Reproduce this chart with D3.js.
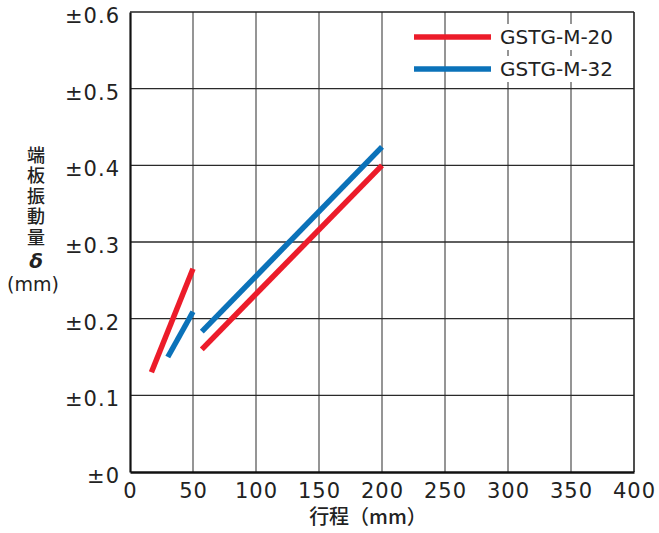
<!DOCTYPE html>
<html>
<head>
<meta charset="utf-8">
<script src="https://cdn.jsdelivr.net/npm/d3@7"></script>
<style>
  html, body { margin: 0; padding: 0; background: #fff; }
  svg { display: block; }
</style>
</head>
<body>
<svg id="chart" width="659" height="533"></svg>
<script>
// Stroke (mm) on x, end-plate vibration amount δ (mm) on y
const xTicks = [0, 50, 100, 150, 200, 250, 300, 350, 400];
const yTicks = [0, 0.1, 0.2, 0.3, 0.4, 0.5, 0.6];
const yTickLabels = ["±0", "±0.1", "±0.2", "±0.3", "±0.4", "±0.5", "±0.6"];
const seriesNames = ["GSTG-M-20", "GSTG-M-32"];
const seriesColors = ["#ec1c2a", "#0b72b9"];

// Each model has two straight segments: [stroke, vibration] end points
const m20Segments = [
  [[17, 0.13], [50, 0.265]],
  [[57, 0.16], [200, 0.40]]
];
const m32Segments = [
  [[30, 0.15], [50, 0.209]],
  [[57, 0.183], [200, 0.424]]
];
const seriesSegments = [m20Segments, m32Segments];

const yTitleText = "端板振動量";

const svg = d3.select("#chart");
const plotLeft = 130, plotRight = 634, plotTop = 12, plotBottom = 472;

const x = d3.scaleLinear().domain([0, 400]).range([plotLeft, plotRight]);
const y = d3.scaleLinear().domain([0, 0.6]).range([plotBottom, plotTop]);

const latin = "'DejaVu Sans', sans-serif";
const cjk = "'Noto Sans CJK JP', sans-serif";

// vertical grid (gray)
svg.append("g")
  .selectAll("line")
  .data(xTicks.slice(1, -1))
  .join("line")
  .attr("x1", d => x(d)).attr("x2", d => x(d))
  .attr("y1", plotTop).attr("y2", plotBottom)
  .attr("stroke", "#8a8a8a")
  .attr("stroke-width", 1.8);

// horizontal grid (dark)
svg.append("g")
  .selectAll("line")
  .data(yTicks.slice(1, -1))
  .join("line")
  .attr("x1", plotLeft).attr("x2", plotRight)
  .attr("y1", d => y(d)).attr("y2", d => y(d))
  .attr("stroke", "#2a2a2a")
  .attr("stroke-width", 1.3);

// frame
svg.append("line").attr("x1", plotLeft).attr("x2", plotRight).attr("y1", plotTop).attr("y2", plotTop)
  .attr("stroke", "#222").attr("stroke-width", 1.6);
svg.append("line").attr("x1", plotRight).attr("x2", plotRight).attr("y1", plotTop).attr("y2", plotBottom)
  .attr("stroke", "#222").attr("stroke-width", 1.6);

// y axis
const yAxis = d3.axisLeft(y)
  .tickValues(yTicks)
  .tickSize(0)
  .tickPadding(10)
  .tickFormat((d, i) => yTickLabels[i]);
const gy = svg.append("g").attr("transform", `translate(${plotLeft},0)`).call(yAxis);
gy.select(".domain").attr("stroke", "#111").attr("stroke-width", 2.2);
gy.selectAll("text")
  .attr("font-family", latin)
  .attr("font-size", 21)
  .attr("letter-spacing", 1)
  .attr("fill", "#222")
  .attr("dy", "0.5em");

// x axis
const xAxis = d3.axisBottom(x)
  .tickValues(xTicks)
  .tickSize(0)
  .tickPadding(11)
  .tickFormat(d3.format("d"));
const gx = svg.append("g").attr("transform", `translate(0,${plotBottom})`).call(xAxis);
gx.select(".domain").attr("stroke", "#111").attr("stroke-width", 2.6);
gx.selectAll("text")
  .attr("font-family", latin)
  .attr("font-size", 21)
  .attr("letter-spacing", 1)
  .attr("fill", "#222");

// data segments
const line = d3.line().x(d => x(d[0])).y(d => y(d[1]));
seriesSegments.forEach((segs, i) => {
  svg.append("g")
    .selectAll("path")
    .data(segs)
    .join("path")
    .attr("d", line)
    .attr("fill", "none")
    .attr("stroke", seriesColors[i])
    .attr("stroke-width", 5.5)
    .attr("stroke-linecap", "butt");
});

// legend
const legend = svg.append("g");
seriesNames.forEach((name, i) => {
  const cy = 37 + i * 32;
  legend.append("rect")
    .attr("x", 497).attr("y", cy - 13)
    .attr("width", 120).attr("height", 26)
    .attr("fill", "#fff");
  legend.append("line")
    .attr("x1", 414).attr("x2", 491)
    .attr("y1", cy).attr("y2", cy)
    .attr("stroke", seriesColors[i])
    .attr("stroke-width", 5.5);
  legend.append("text")
    .attr("x", 500).attr("y", cy)
    .attr("dy", "0.36em")
    .attr("font-family", latin)
    .attr("font-size", 20)
    .attr("fill", "#222")
    .text(name);
});

// y axis title: vertical Japanese, then δ and unit
svg.append("text")
  .attr("x", 36).attr("y", 146)
  .attr("writing-mode", "vertical-rl")
  .attr("font-family", cjk)
  .attr("font-weight", 500)
  .attr("font-size", 18)
  .attr("letter-spacing", 2.5)
  .attr("fill", "#222")
  .text(yTitleText);
svg.append("text")
  .attr("x", 36).attr("y", 261)
  .attr("dy", "0.36em")
  .attr("text-anchor", "middle")
  .attr("font-family", latin)
  .attr("font-style", "italic")
  .attr("font-weight", "bold")
  .attr("font-size", 20)
  .attr("fill", "#222")
  .text("δ");
svg.append("text")
  .attr("x", 33).attr("y", 284)
  .attr("dy", "0.36em")
  .attr("text-anchor", "middle")
  .attr("font-family", latin)
  .attr("font-size", 19)
  .attr("fill", "#222")
  .text("(mm)");

// x axis title
svg.append("text")
  .attr("x", 368).attr("y", 517)
  .attr("dy", "0.36em")
  .attr("text-anchor", "middle")
  .attr("font-family", cjk)
  .attr("font-weight", 500)
  .attr("font-size", 20)
  .attr("fill", "#222")
  .text("行程（mm）");
</script>
</body>
</html>
